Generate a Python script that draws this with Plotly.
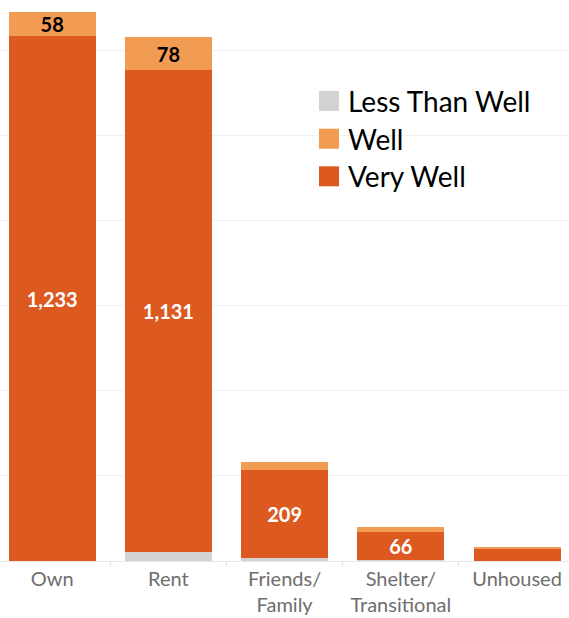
import plotly.graph_objects as go

# Housing situation categories
categories = ["Own", "Rent", "Friends/<br>Family", "Shelter/<br>Transitional", "Unhoused"]

# Counts per rating
less_than_well = [0, 22, 6, 2, 1]
very_well = [1233, 1131, 209, 66, 29]
well = [58, 78, 18, 11, 2]

legend_names = ["Less Than Well", "Well", "Very Well"]
colors = {
    "Less Than Well": "#D3D3D3",
    "Well": "#F29B52",
    "Very Well": "#DC5A1F",
}

# Only label segments tall enough to hold their number
very_well_text = [f"{v:,}" if v >= 50 else "" for v in very_well]
well_text = [f"{v:,}" if v >= 50 else "" for v in well]

fig = go.Figure()

fig.add_trace(go.Bar(
    x=categories, y=less_than_well, name="Less Than Well",
    marker=dict(color=colors["Less Than Well"], line=dict(width=0)),
    showlegend=False, hoverinfo="skip",
))
fig.add_trace(go.Bar(
    x=categories, y=very_well, name="Very Well",
    marker=dict(color=colors["Very Well"], line=dict(width=0)),
    text=very_well_text, textposition="inside", insidetextanchor="middle",
    textangle=0, constraintext="none",
    textfont=dict(family="Lato", size=20, color="white", weight="bold"),
    showlegend=False,
))
fig.add_trace(go.Bar(
    x=categories, y=well, name="Well",
    marker=dict(color=colors["Well"], line=dict(width=0)),
    text=well_text, textposition="inside", insidetextanchor="middle",
    textangle=0, constraintext="none",
    textfont=dict(family="Lato", size=20, color="black", weight="bold"),
    showlegend=False,
))

# Legend: square swatches with labels, placed in the empty upper right area
W, H_PLOT = 569, 561
sw_left, sw_size, text_left = 319, 20, 346
row_centers = [101, 138.7, 176.3]
for name, cy in zip(legend_names, row_centers):
    fig.add_shape(
        type="rect", xref="paper", yref="paper",
        x0=sw_left / W, x1=(sw_left + sw_size) / W,
        y0=(H_PLOT - (cy + sw_size / 2)) / H_PLOT,
        y1=(H_PLOT - (cy - sw_size / 2)) / H_PLOT,
        fillcolor=colors[name], line=dict(width=0), layer="above",
    )
    fig.add_annotation(
        xref="paper", yref="paper",
        x=text_left / W, y=(H_PLOT - cy) / H_PLOT,
        xanchor="left", yanchor="middle",
        text=name, showarrow=False,
        font=dict(family="Lato", size=28, color="black"),
    )

fig.update_layout(
    width=569, height=618,
    margin=dict(l=0, r=0, t=0, b=57),
    barmode="stack",
    bargap=0.252,
    plot_bgcolor="white",
    paper_bgcolor="white",
    showlegend=False,
    xaxis=dict(
        range=[-0.449, 4.447],
        showgrid=False,
        showline=True, linecolor="#E6E6E6", linewidth=1,
        ticks="outside", tickson="boundaries", ticklen=5, tickcolor="#E6E6E6",
        tickfont=dict(family="Lato", size=20, color="#6E6E6E"),
        fixedrange=True,
    ),
    yaxis=dict(
        range=[0, 1318.5],
        dtick=200,
        showgrid=True, gridcolor="#F0F0F0", gridwidth=1,
        zeroline=False,
        showticklabels=False,
        fixedrange=True,
    ),
)

fig.write_html("out.html")
